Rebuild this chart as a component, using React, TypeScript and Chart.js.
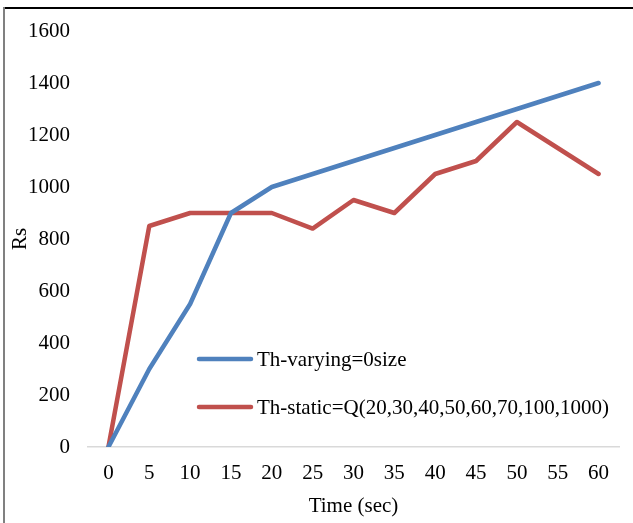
import React, { useEffect, useRef } from "react";
import { Chart, registerables } from "chart.js";

Chart.register(...registerables);

const categories = ["0", "5", "10", "15", "20", "25", "30", "35", "40", "45", "50", "55", "60"];
const varyingValues = [0, 300, 550, 900, 1000, 1050, 1100, 1150, 1200, 1250, 1300, 1350, 1400];
const staticValues = [0, 850, 900, 900, 900, 840, 950, 900, 1050, 1100, 1250, 1150, 1050];
const seriesLabels = ["Th-varying=0size", "Th-static=Q(20,30,40,50,60,70,100,1000)"];
const seriesColors = ["#4F81BD", "#C0504D"];

const FONT = "'Liberation Serif', 'Times New Roman', serif";
const FS = 21;

const insideLegend = {
  id: "insideLegend",
  afterDatasetsDraw(chart: any) {
    const { ctx, chartArea } = chart;
    const x0 = chartArea.left + 111;
    const y0 = chartArea.top + 328;
    const gap = 48;
    ctx.save();
    ctx.font = `${FS}px ${FONT}`;
    ctx.textBaseline = "middle";
    ctx.textAlign = "left";
    chart.data.datasets.forEach((ds: any, i: number) => {
      const y = y0 + i * gap;
      ctx.strokeStyle = ds.borderColor;
      ctx.lineWidth = 4.5;
      ctx.lineCap = "round";
      ctx.beginPath();
      ctx.moveTo(x0, y);
      ctx.lineTo(x0 + 52, y);
      ctx.stroke();
      ctx.fillStyle = "#000";
      ctx.fillText(ds.label, x0 + 58, y + 1);
    });
    ctx.restore();
  },
};

export default function App() {
  const ref = useRef<HTMLCanvasElement>(null);
  useEffect(() => {
    if (!ref.current) return;
    const chart = new Chart(ref.current, {
      type: "line",
      data: {
        labels: categories,
        datasets: [
          {
            label: seriesLabels[0],
            data: varyingValues,
            borderColor: seriesColors[0],
            backgroundColor: seriesColors[0],
            borderWidth: 4.5,
            pointRadius: 0,
            borderCapStyle: "round",
            borderJoinStyle: "round",
            tension: 0,
          },
          {
            label: seriesLabels[1],
            data: staticValues,
            borderColor: seriesColors[1],
            backgroundColor: seriesColors[1],
            borderWidth: 4.5,
            pointRadius: 0,
            borderCapStyle: "round",
            borderJoinStyle: "round",
            tension: 0,
          },
        ],
      },
      options: {
        responsive: false,
        animation: false,
        layout: { padding: { left: 0, right: 14, top: 31, bottom: 0 } },
        plugins: {
          legend: { display: false },
          tooltip: { enabled: false },
        },
        scales: {
          x: {
            offset: true,
            grid: { display: false, drawTicks: false },
            border: { display: true, color: "#d9d9d9", width: 1.5 },
            ticks: { color: "#000", font: { family: FONT, size: FS }, padding: 14, maxRotation: 0, autoSkip: false },
            title: { display: true, text: "Time (sec)", color: "#000", font: { family: FONT, size: FS }, padding: { top: 0, bottom: 4 } },
            afterFit(scale: any) {
              scale.height = 76;
            },
          },
          y: {
            min: 0,
            max: 1600,
            grid: { display: false, drawTicks: false },
            border: { display: false },
            ticks: {
              stepSize: 200,
              color: "#000",
              font: { family: FONT, size: FS },
              padding: 18,
              callback: (v: any) => String(v),
            },
            title: { display: true, text: "Rs", color: "#000", font: { family: FONT, size: FS }, padding: { top: 8, bottom: 0 } },
            afterFit(scale: any) {
              scale.width = 88;
            },
          },
        },
      },
      plugins: [insideLegend],
    });
    return () => chart.destroy();
  }, []);

  return (
    <div style={{ position: "fixed", left: 0, top: 0, width: 633, height: 523, background: "#fff" }}>
      <canvas ref={ref} width={633} height={523} style={{ position: "absolute", left: 0, top: 0 }} />
      <div style={{ position: "absolute", left: 3, top: 7, width: 630, height: 1.5, background: "#000" }} />
      <div style={{ position: "absolute", left: 3, top: 7, width: 2, height: 516, background: "#808080" }} />
    </div>
  );
}
